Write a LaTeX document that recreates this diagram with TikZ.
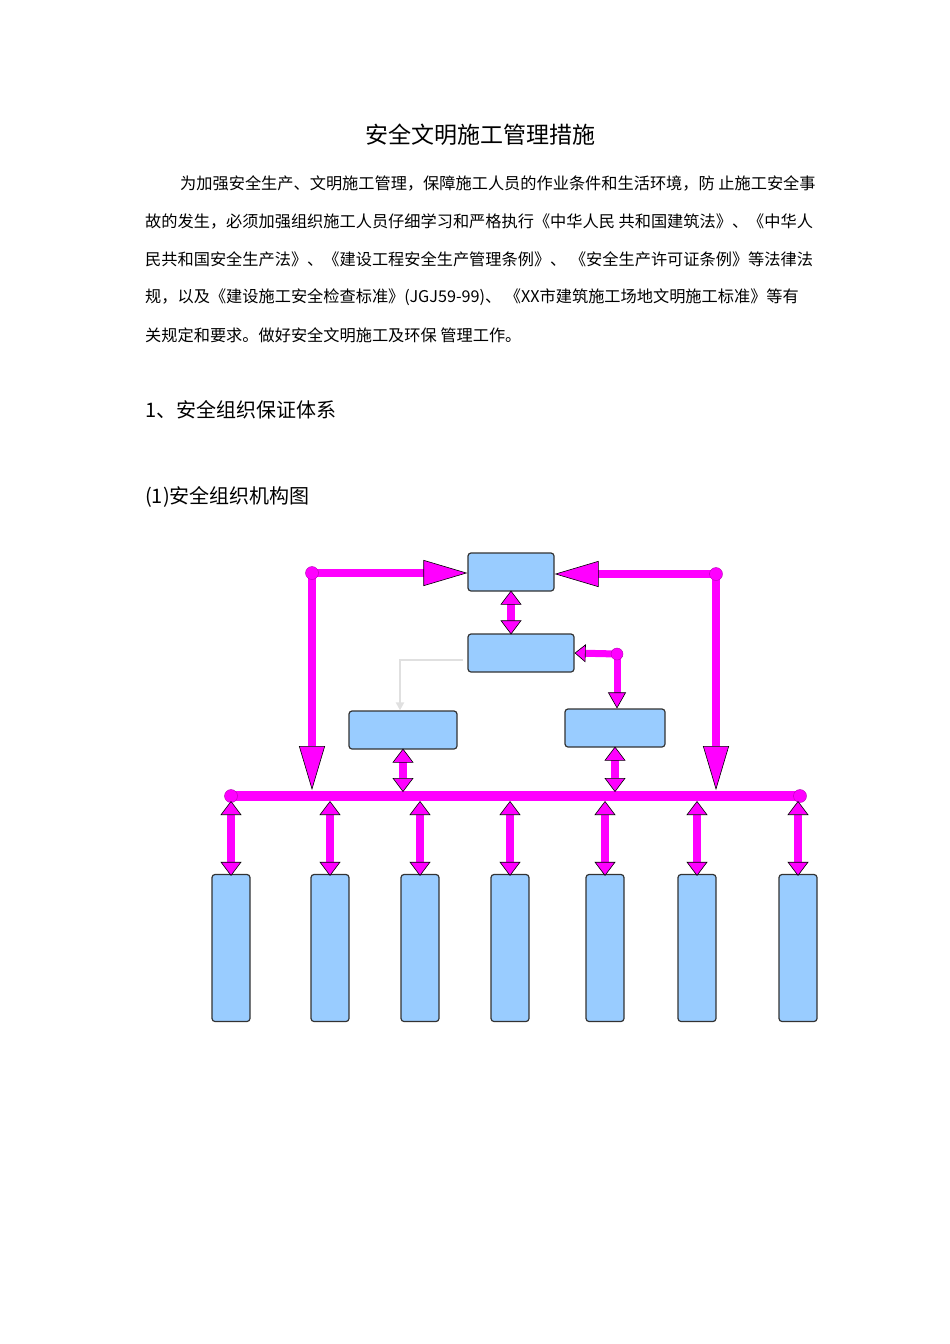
\documentclass[tikz,border=0pt]{standalone}
\usepackage{fontspec}
\setmainfont{Noto Sans CJK SC}
\usetikzlibrary{arrows.meta}
\definecolor{mag}{RGB}{255,0,255}
\definecolor{boxblue}{RGB}{153,204,255}
\tikzset{
  bx/.style={draw=black!80,line width=1.2pt,fill=boxblue,rounded corners=3pt,inner sep=0pt},
  pipe/.style={mag,line width=8pt},
  tip/.style={-{Triangle[width=26pt,length=44pt,fill=mag,color=black,line width=0.6pt]}},
  dtip/.style={{Triangle[width=21pt,length=14pt,fill=mag,color=black,line width=0.6pt]}-{Triangle[width=21pt,length=14pt,fill=mag,color=black,line width=0.6pt]}},
  jdot/.style={circle,fill=mag,draw=mag!70!black,inner sep=0pt,minimum size=13pt},
  body/.style={anchor=west,inner sep=0pt,font=\fontsize{16.2pt}{18pt}\selectfont},
  head/.style={anchor=west,inner sep=0pt,font=\fontsize{20pt}{24pt}\selectfont}
}
\begin{document}
\begin{tikzpicture}[x=1pt,y=-1pt]
\useasboundingbox (0,0) rectangle (950,1344);
\node[inner sep=0pt,font=\fontsize{23pt}{26pt}\selectfont] (title) at (480,135) {安全文明施工管理措施};
\node[body] (l1) at (180,183) {为加强安全生产、文明施工管理，保障施工人员的作业条件和生活环境，防\ 止施工安全事};
\node[body] (l2) at (145,221) {故的发生，必须加强组织施工人员仔细学习和严格执行《中华人民\ 共和国建筑法》、《中华人};
\node[body] (l3) at (145,259) {民共和国安全生产法》、《建设工程安全生产管理条例》、\ 《安全生产许可证条例》等法律法};
\node[body] (l4) at (145,297) {规，以及《建设施工安全检查标准》(JGJ59-99)、\ 《XX市建筑施工场地文明施工标准》等有};
\node[body] (l5) at (145,335) {关规定和要求。做好安全文明施工及环保\ 管理工作。};
\node[head] (h1) at (145,410) {1、安全组织保证体系};
\node[head] (h2) at (145,497) {(1)安全组织机构图};
% boxes
\node[bx,minimum width=86pt,minimum height=38pt] (top) at (511,572) {};
\node[bx,minimum width=106pt,minimum height=38pt] (sec) at (521,653) {};
\node[bx,minimum width=108pt,minimum height=38pt] (ml) at (403,730) {};
\node[bx,minimum width=100pt,minimum height=38pt] (mr) at (615,728) {};
\foreach \i/\x in {1/231,2/330,3/420,4/510,5/605,6/697,7/798}
  \node[bx,minimum width=38pt,minimum height=147pt] (b\i) at (\x,948) {};
% bus
\coordinate (busL) at (231,796);
\coordinate (busR) at (800,796);
\draw[mag,line width=10pt] (busL) -- (busR);
\node[jdot] (dL) at (busL) {};
\node[jdot] (dR) at (busR) {};
% loops
\coordinate (jlc) at (312,573);
\coordinate (jrc) at (716,574);
\coordinate (jlb) at (312,790);
\coordinate (jrb) at (716,790);
\draw[pipe,tip] (jlc) -- (top.west |- jlc);
\draw[pipe,tip] (jrc) -- (top.east |- jrc);
\draw[pipe,tip] (jlc) -- (jlb);
\draw[pipe,tip] (jrc) -- (jrb);
\node[jdot] (jl) at (jlc) {};
\node[jdot] (jr) at (jrc) {};
% top-sec
\draw[pipe,dtip] ([yshift=1pt]top.south) -- ([yshift=-1pt]sec.north -| top.south);
% sec - right
\coordinate (jsc) at (617,654);
\draw[mag,line width=7pt,{Triangle[width=18pt,length=11pt,fill=mag,color=black,line width=0.6pt]}-] (sec.east) -- (jsc);
\draw[mag,line width=7pt,-{Triangle[width=18pt,length=16pt,fill=mag,color=black,line width=0.6pt]}] (jsc) -- (mr.north -| jsc);
\node[jdot,minimum size=12pt] (js) at (jsc) {};
% faint gray
\coordinate (gc) at (400,660);
\draw[black!12,line width=2pt,-{Triangle[width=8pt,length=8pt]}] (sec.west |- gc) ++(-4,0) -- (gc) -- (ml.north -| gc);
% mid to bus
\coordinate (mlb) at (403,792);
\coordinate (mrb) at (615,792);
\draw[pipe,dtip] ([yshift=1pt]ml.south) -- (mlb);
\draw[pipe,dtip] ([yshift=1pt]mr.south) -- (mrb);
% bus to bottom boxes
\foreach \i/\x in {1/231,2/330,3/420,4/510,5/605,6/697,7/798}{
  \coordinate (u\i) at (\x,801);
  \draw[pipe,dtip] (u\i) -- ([yshift=-2pt]b\i.north);
}
\end{tikzpicture}
\end{document}
